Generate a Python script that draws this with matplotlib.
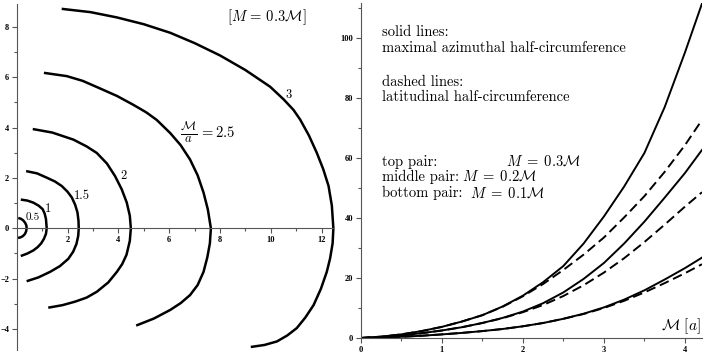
import matplotlib.pyplot as plt
from matplotlib.ticker import MultipleLocator, FixedLocator

plt.rcParams['mathtext.fontset'] = 'cm'

# left panel: horizon shapes, one curve per M/a value (top end -> bottom end)
x_05 = [0.06, 0.16, 0.25, 0.33, 0.38, 0.39, 0.37, 0.32, 0.24, 0.15, 0.05]
y_05 = [0.41, 0.38, 0.32, 0.22, 0.11, 0.0, -0.12, -0.23, -0.31, -0.36, -0.38]
x_10 = [0.16, 0.42, 0.65, 0.86, 1.02, 1.10, 1.15, 1.18, 1.15, 1.07, 0.96, 0.82, 0.65, 0.42, 0.16]
y_10 = [1.14, 1.10, 1.02, 0.90, 0.76, 0.58, 0.37, 0.0, -0.22, -0.42, -0.60, -0.75, -0.88, -1.00, -1.10]
x_15 = [0.37, 0.80, 1.18, 1.50, 1.77, 2.00, 2.17, 2.30, 2.39, 2.43, 2.44, 2.42, 2.35, 2.22,
        2.03, 1.70, 1.31, 0.85, 0.39]
y_15 = [2.27, 2.18, 2.01, 1.86, 1.68, 1.45, 1.22, 0.93, 0.63, 0.30, 0.0, -0.30, -0.62, -0.93,
        -1.21, -1.50, -1.73, -1.95, -2.10]
x_20 = [0.63, 1.40, 2.23, 2.75, 3.15, 3.55, 3.87, 4.13, 4.33, 4.45, 4.49, 4.45, 4.32, 4.15,
        3.94, 3.60, 3.15, 2.75, 2.30, 1.80, 1.24]
y_20 = [3.94, 3.80, 3.52, 3.25, 2.99, 2.57, 2.07, 1.55, 1.02, 0.50, 0.0, -0.50, -1.05, -1.42,
        -1.73, -2.15, -2.52, -2.75, -2.91, -3.05, -3.15]
x_25 = [1.07, 1.97, 2.60, 3.28, 3.95, 4.59, 5.10, 5.51, 6.04, 6.45, 6.82, 7.12, 7.35, 7.52,
        7.64, 7.60, 7.50, 7.35, 7.12, 6.82, 6.45, 6.04, 5.40, 4.70]
y_25 = [6.17, 6.04, 5.85, 5.55, 5.25, 4.90, 4.60, 4.30, 3.78, 3.30, 2.73, 2.10, 1.42, 0.75,
        0.0, -0.60, -1.15, -1.73, -2.25, -2.65, -2.97, -3.24, -3.58, -3.86]
x_30 = [1.77, 2.90, 3.94, 5.00, 6.04, 7.00, 8.00, 9.00, 9.97, 10.50, 10.89, 11.15, 11.50,
        11.81, 12.06, 12.27, 12.40, 12.46, 12.43, 12.33, 12.20, 11.97, 11.68, 11.35, 11.02,
        10.65, 10.24, 9.75, 9.21]
y_30 = [8.71, 8.58, 8.37, 8.10, 7.76, 7.35, 6.86, 6.28, 5.62, 5.12, 4.70, 4.32, 3.68,
        2.99, 2.35, 1.68, 0.90, 0.0, -0.60, -1.20, -1.73, -2.40, -3.05, -3.55, -3.96,
        -4.25, -4.49, -4.63, -4.71]

# right panel: half-circumferences vs M [a]
mass = [0, 0.25, 0.5, 0.75, 1.0, 1.25, 1.5, 1.75, 2.0, 2.25, 2.5, 2.75, 3.0, 3.25, 3.5, 3.75, 4.0, 4.21]
top_solid = [0, 0.45, 1.2, 2.3, 3.7, 5.5, 7.6, 10.5, 14.1, 18.6, 24.0, 31.5, 40.5, 50.5, 61.7, 77.0, 95.2, 111.5]
top_dashed = [0, 0.45, 1.2, 2.3, 3.7, 5.5, 7.6, 10.4, 13.9, 18.0, 22.7, 27.8, 33.5, 40.2, 47.3, 55.4, 64.3, 72.7]
mid_solid = [0, 0.3, 0.85, 1.6, 2.5, 3.6, 5.0, 6.7, 8.8, 11.6, 15.2, 19.7, 25.0, 31.5, 38.8, 46.8, 55.0, 62.7]
mid_dashed = [0, 0.3, 0.85, 1.6, 2.5, 3.6, 5.0, 6.6, 8.6, 11.0, 14.0, 17.6, 21.8, 26.6, 32.0, 37.8, 43.8, 48.6]
bot_solid = [0, 0.15, 0.4, 0.75, 1.2, 1.7, 2.3, 3.0, 3.9, 5.0, 6.4, 8.1, 10.2, 12.8, 15.9, 19.5, 23.3, 26.8]
bot_dashed = [0, 0.15, 0.4, 0.75, 1.2, 1.7, 2.3, 3.0, 3.9, 5.0, 6.4, 8.0, 10.0, 12.4, 15.2, 18.3, 21.6, 24.6]

tick_font = dict(family='Liberation Serif', size=6, weight='bold')
axis_col = '#555555'

fig = plt.figure(figsize=(7.06, 3.53), dpi=100)

# ---- left panel
ax1 = fig.add_axes([0.0237, 0.0085, 0.4485, 0.980])
for xs, ys in [(x_05, y_05), (x_10, y_10), (x_15, y_15), (x_20, y_20), (x_25, y_25), (x_30, y_30)]:
    ax1.plot(xs, ys, color='black', lw=1.8, solid_capstyle='butt', solid_joinstyle='round',
             clip_on=False)
ax1.set_xlim(0, 12.46)
ax1.set_ylim(-4.83, 8.9)
ax1.spines['top'].set_visible(False)
ax1.spines['right'].set_visible(False)
ax1.spines['bottom'].set_position(('data', 0))
for s in ['left', 'bottom']:
    ax1.spines[s].set_color(axis_col)
ax1.xaxis.set_major_locator(FixedLocator([2, 4, 6, 8, 10, 12]))
ax1.xaxis.set_minor_locator(FixedLocator([1, 3, 5, 7, 9, 11]))
ax1.yaxis.set_major_locator(MultipleLocator(2))
ax1.yaxis.set_minor_locator(MultipleLocator(1))
ax1.tick_params(which='major', length=3.5, width=0.8, color=axis_col, pad=2)
ax1.tick_params(which='minor', length=2, width=0.8, color=axis_col)
for lab in ax1.get_xticklabels() + ax1.get_yticklabels():
    lab.set(**tick_font)

ax1.text(9.85, 8.36, r'$[M\,=\,0.3\mathcal{M}]$', fontsize=10.5, ha='center', va='center')
ax1.text(0.62, 0.43, '0.5', family='cmr10', fontsize=8, ha='center', va='center')
ax1.text(1.24, 0.78, '1', family='cmr10', fontsize=9, ha='center', va='center')
ax1.text(2.56, 1.28, '1.5', family='cmr10', fontsize=9, ha='center', va='center')
ax1.text(4.22, 2.07, '2', family='cmr10', fontsize=9, ha='center', va='center')
ax1.text(6.76, 3.79, r'$\frac{\mathcal{M}}{a}$', fontsize=13, ha='center', va='center')
ax1.text(7.18, 3.79, r'$=2.5$', fontsize=10.5, ha='left', va='center')
ax1.text(10.69, 5.29, '3', family='cmr10', fontsize=9, ha='center', va='center')

# ---- right panel
ax2 = fig.add_axes([0.5109, 0.0425, 0.4834, 0.949])
dash = (0, (5, 2.5))
ax2.plot(mass, top_solid, color='black', lw=1.4)
ax2.plot(mass, top_dashed, color='black', lw=1.4, linestyle=dash)
ax2.plot(mass, mid_solid, color='black', lw=1.4)
ax2.plot(mass, mid_dashed, color='black', lw=1.4, linestyle=dash)
ax2.plot(mass, bot_solid, color='black', lw=1.4)
ax2.plot(mass, bot_dashed, color='black', lw=1.4, linestyle=dash)
ax2.set_xlim(0, 4.21)
ax2.set_ylim(0, 111.7)
ax2.spines['top'].set_visible(False)
ax2.spines['right'].set_visible(False)
for s in ['left', 'bottom']:
    ax2.spines[s].set_color(axis_col)
ax2.xaxis.set_major_locator(MultipleLocator(1))
ax2.xaxis.set_minor_locator(MultipleLocator(0.5))
ax2.yaxis.set_major_locator(MultipleLocator(20))
ax2.yaxis.set_minor_locator(MultipleLocator(10))
ax2.tick_params(which='major', length=3.5, width=0.8, color=axis_col, pad=2)
ax2.tick_params(which='minor', length=2, width=0.8, color=axis_col)
for lab in ax2.get_xticklabels() + ax2.get_yticklabels():
    lab.set(**tick_font)

txt = dict(family='cmr10', fontsize=10.5, va='center', ha='left')
ax2.text(0.26, 102.1, 'solid lines:', **txt)
ax2.text(0.26, 96.6, 'maximal azimuthal half-circumference', **txt)
ax2.text(0.26, 85.4, 'dashed lines:', **txt)
ax2.text(0.26, 80.4, 'latitudinal half-circumference', **txt)
ax2.text(0.26, 58.8, 'top pair:', **txt)
ax2.text(0.26, 53.8, 'middle pair:', **txt)
ax2.text(0.26, 48.4, 'bottom pair:', **txt)
math = dict(fontsize=10.5, va='center', ha='left')
ax2.text(1.794, 58.8, r'$M\;=\;0.3\mathcal{M}$', **math)
ax2.text(1.25, 53.8, r'$M\;=\;0.2\mathcal{M}$', **math)
ax2.text(1.35, 48.4, r'$M\;=\;0.1\mathcal{M}$', **math)
ax2.text(4.19, 4.0, r'$\mathcal{M}\ [a]$', fontsize=11, va='center', ha='right')

fig.savefig('out.png', dpi=100)
